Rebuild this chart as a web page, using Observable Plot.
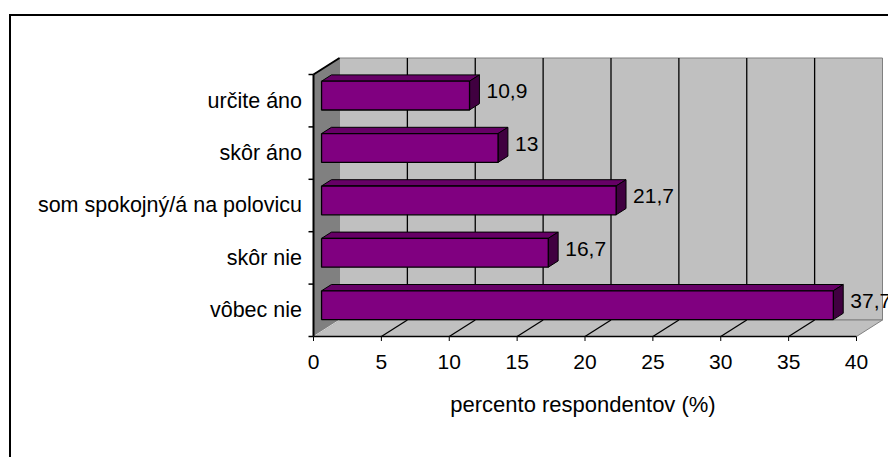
<!DOCTYPE html>
<html><head><meta charset="utf-8">
<script src="https://cdn.jsdelivr.net/npm/d3@7"></script>
<script src="https://cdn.jsdelivr.net/npm/@observablehq/plot@0.6"></script>
<style>
body{margin:0;background:#fff;}
#wrap{position:relative;width:888px;height:457px;overflow:hidden;background:#fff;}
#frame{position:absolute;left:9px;top:14px;width:1000px;height:1000px;border:2px solid #000;pointer-events:none;}
</style></head><body>
<div id="wrap"><div id="frame"></div></div>
<script>
const categories = ["určite áno", "skôr áno", "som spokojný/á na polovicu", "skôr nie", "vôbec nie"];
const values = [10.9, 13, 21.7, 16.7, 37.7];
const xTicks = [0, 5, 10, 15, 20, 25, 30, 35, 40];
const xTitle = "percento respondentov (%)";

const W = 888, H = 457, mL = 313, mR = 32, mT = 74, mB = 121;
const n = categories.length;
const xMax = xTicks[xTicks.length - 1];
const kx = (W - mL - mR) / xMax;   // px per x unit
const ky = (H - mT - mB) / n;      // px per category
const DEPTH_X = 26, DEPTH_Y = 16.5;
const P = (x, y, t) => ({x: x + t * DEPTH_X / kx, y: y - t * DEPTH_Y / ky});
const poly = (pts, g) => [...pts, pts[0]].map(p => ({...p, g}));
const seg = (a, b) => ({x1: a.x, y1: a.y, x2: b.x, y2: b.y});

const backWall = poly([P(0,0,1), P(xMax,0,1), P(xMax,n,1), P(0,n,1)], "b");
const leftWall = poly([P(0,0,0), P(0,0,1), P(0,n,1), P(0,n,0)], "l");
const floorP = poly([P(0,n,0), P(xMax,n,0), P(xMax,n,1), P(0,n,1)], "f");
const inner = xTicks.slice(1, -1);
const grid = inner.map(k => seg(P(k,0,1), P(k,n,1)));
const floorDiag = inner.map(k => seg(P(k,n,0), P(k,n,1)));

const t1 = 0.31, t2 = 0.69, g0 = 0.225, g1 = 0.775;
const fronts = [], tops = [], sides = [];
values.forEach((v, i) => {
  const y0 = i + g0, y1 = i + g1;
  fronts.push(...poly([P(0,y0,t1), P(v,y0,t1), P(v,y1,t1), P(0,y1,t1)], i));
  tops.push(...poly([P(0,y0,t1), P(v,y0,t1), P(v,y0,t2), P(0,y0,t2)], i));
  sides.push(...poly([P(v,y0,t1), P(v,y0,t2), P(v,y1,t2), P(v,y1,t1)], i));
});
const catTicks = d3.range(n + 1).map(b => ({x1: -5 / kx, x2: 0, y1: b, y2: b}));

const polyOpts = (fill, stroke, sw = 1) => ({x: "x", y: "y", z: "g", fill, stroke, strokeWidth: sw, strokeLinejoin: "miter", strokeLinecap: "butt"});

const chart = Plot.plot({
  width: W, height: H,
  marginLeft: mL, marginRight: mR, marginTop: mT, marginBottom: mB,
  style: {fontFamily: "'Liberation Sans', Arial, sans-serif", fontSize: "21px", color: "#000", background: "transparent", overflow: "visible"},
  x: {domain: [0, xMax], ticks: xTicks, tickSize: 5, tickPadding: 13, label: null, tickFormat: d => String(d)},
  y: {domain: [0, n], reverse: true, axis: null},
  marks: [
    Plot.line(backWall, polyOpts("#c0c0c0", "#808080")),
    Plot.line(leftWall, polyOpts("#808080", "#808080")),
    Plot.line(floorP, polyOpts("#c0c0c0", "#808080")),
    Plot.link([seg(P(0,n,0), P(0,n,1))], {x1: "x1", y1: "y1", x2: "x2", y2: "y2", stroke: "#d8d8d8", strokeWidth: 1}),
    Plot.link(grid, {x1: "x1", y1: "y1", x2: "x2", y2: "y2", stroke: "#000", strokeWidth: 1.3}),
    Plot.link(floorDiag, {x1: "x1", y1: "y1", x2: "x2", y2: "y2", stroke: "#000", strokeWidth: 1.3}),
    Plot.link([seg(P(0,0,0), P(0,n,0)), seg(P(0,0,0), P(0,0,1))], {x1: "x1", y1: "y1", x2: "x2", y2: "y2", stroke: "#000", strokeWidth: 2}),
    Plot.link([seg(P(0,n,0), P(xMax,n,0))], {x1: "x1", y1: "y1", x2: "x2", y2: "y2", stroke: "#000", strokeWidth: 1.5}),
    Plot.link(catTicks, {x1: "x1", y1: "y1", x2: "x2", y2: "y2", stroke: "#000", strokeWidth: 1.5}),
    Plot.line(tops, polyOpts("#660066", "#000")),
    Plot.line(sides, polyOpts("#400040", "#000")),
    Plot.line(fronts, polyOpts("#800080", "#000", 1.3)),
    Plot.text(categories, {x: 0, y: (d, i) => i + 0.5, text: d => d, textAnchor: "end", dx: -11.5, fontSize: 21.5, fill: "#000"}),
    Plot.text(values, {x: d => d, y: (d, i) => i + 0.5, text: d => String(d).replace(".", ","), textAnchor: "start", dx: 25, dy: -9, fontSize: 21, fill: "#000"}),
    Plot.text([xTitle], {frameAnchor: "bottom", text: d => d, dy: 75, dx: -2, fontSize: 22, fill: "#000"})
  ]
});
document.getElementById("wrap").insertBefore(chart, document.getElementById("frame"));
chart.style.position = "absolute"; chart.style.left = "0"; chart.style.top = "0";
</script>
</body></html>
